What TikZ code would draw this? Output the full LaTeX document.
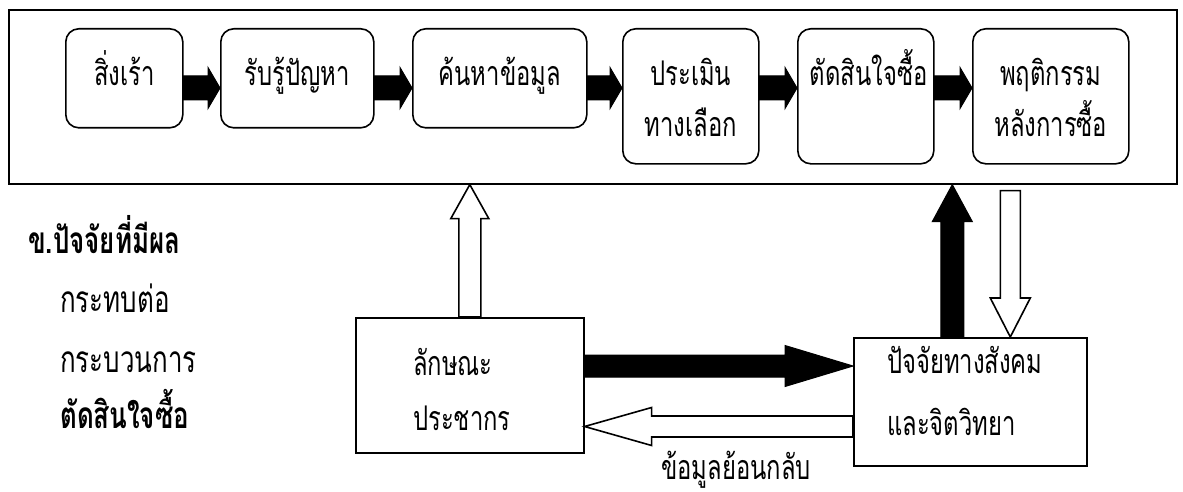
\documentclass[tikz,border=0pt]{standalone}
\usepackage{fontspec}
\newfontfamily\thai[Script=Thai,FakeStretch=0.70]{Loma}
\usetikzlibrary{calc}
\tikzset{
  every node/.style={font=\thai\fontsize{34}{36}\selectfont},
  rbox/.style={draw, line width=1.6pt, rounded corners=13pt, inner sep=0pt, anchor=north west},
  sbox/.style={draw, line width=1.6pt, inner sep=0pt, anchor=north west},
  txt/.style={inner sep=0pt, anchor=base},
  ltxt/.style={inner sep=0pt, anchor=base west},
  headtxt/.style={inner sep=0pt, anchor=base west, font=\thai\fontsize{37}{39}\selectfont},
  boldtxt/.style={inner sep=0pt, anchor=base west, font=\thai\bfseries\fontsize{37}{39}\selectfont},
  solidarrow/.style={fill=black, draw=black, line width=1pt, line join=miter},
  hollowarrow/.style={fill=white, draw=black, line width=1.6pt, line join=miter},
}
% #1 style, #2 start, #3 tip, #4 shaft half width, #5 head half width, #6 head length
\newcommand\blockarrow[6]{%
  \coordinate (ba-s) at (#2);
  \coordinate (ba-e) at (#3);
  \coordinate (ba-h) at ($(ba-e)!#6!(ba-s)$);
  \path[#1] ($(ba-s)!#4!90:(ba-e)$) -- ($(ba-h)!#4!90:(ba-e)$) -- ($(ba-h)!#5!90:(ba-e)$)
    -- (ba-e) -- ($(ba-h)!#5!-90:(ba-e)$) -- ($(ba-h)!#4!-90:(ba-e)$) -- ($(ba-s)!#4!-90:(ba-e)$) -- cycle;
}
\begin{document}
\begin{tikzpicture}[x=1pt,y=1pt]
\useasboundingbox[fill=white] (0,0) rectangle (1183,-492);

% outer frame
\node[sbox, minimum width=1168pt, minimum height=174pt] (outer) at (8,-9) {};

% process boxes
\node[rbox, minimum width=117pt, minimum height=99pt]  (b1) at (65,-28) {};
\node[rbox, minimum width=153pt, minimum height=99pt]  (b2) at (220,-28) {};
\node[rbox, minimum width=174pt, minimum height=99pt]  (b3) at (412,-28) {};
\node[rbox, minimum width=136pt, minimum height=135pt] (b4) at (622,-28) {};
\node[rbox, minimum width=136pt, minimum height=135pt] (b5) at (797,-28) {};
\node[rbox, minimum width=156pt, minimum height=135pt] (b6) at (972,-28) {};

\node[txt] (t1)  at ([yshift=-58pt]b1.north) {สิ่งเร้า};
\node[txt] (t2)  at ([yshift=-58pt]b2.north) {รับรู้ปัญหา};
\node[txt] (t3)  at ([yshift=-58pt]b3.north) {ค้นหาข้อมูล};
\node[txt] (t4a) at ([yshift=-58pt]b4.north) {ประเมิน};
\node[txt] (t4b) at ([yshift=-108pt]b4.north) {ทางเลือก};
\node[txt] (t5)  at ([xshift=3pt,yshift=-58pt]b5.north) {ตัดสินใจซื้อ};
\node[txt] (t6a) at ([yshift=-58pt]b6.north) {พฤติกรรม};
\node[txt] (t6b) at ([yshift=-108pt]b6.north) {หลังการซื้อ};

% arrows between process boxes
\coordinate (row) at (0,-88);
\blockarrow{solidarrow}{b1.east |- row}{b2.west |- row}{12pt}{20.5pt}{12pt}
\blockarrow{solidarrow}{b2.east |- row}{b3.west |- row}{12pt}{20.5pt}{12pt}
\blockarrow{solidarrow}{b3.east |- row}{b4.west |- row}{12pt}{20.5pt}{12pt}
\blockarrow{solidarrow}{b4.east |- row}{b5.west |- row}{12pt}{20.5pt}{12pt}
\blockarrow{solidarrow}{b5.east |- row}{b6.west |- row}{12pt}{20.5pt}{12pt}

% left heading
\node[boldtxt] (h1) at (28,-253) {ข.ปัจจัยที่มีผล};
\node[headtxt] (h2) at (60,-312) {กระทบต่อ};
\node[headtxt] (h3) at (60,-372) {กระบวนการ};
\node[boldtxt] (h4) at (60,-428) {ตัดสินใจซื้อ};

% lower boxes
\node[sbox, minimum width=228pt, minimum height=135pt] (L) at (355,-317) {};
\node[sbox, minimum width=233pt, minimum height=128pt] (R) at (853,-337) {};
\node[ltxt] (l1) at (413,-375) {ลักษณะ};
\node[ltxt] (l2) at (413,-430) {ประชากร};
\node[ltxt] (r1) at (887,-373) {ปัจจัยทางสังคม};
\node[ltxt] (r2) at (887,-435) {และจิตวิทยา};
\node[txt]  (fb) at (736,-479) {ข้อมูลย้อนกลับ};

% lower arrows
\blockarrow{hollowarrow}{L.north}{L.north |- outer.south}{11pt}{19pt}{34pt}
\coordinate (upB) at ($(R.north)+(-18,0)$);
\blockarrow{solidarrow}{upB}{upB |- outer.south}{11.5pt}{20pt}{37pt}
\coordinate (dnB) at ($(R.north)+(40,0)$);
\coordinate (dnA) at ($(dnB |- outer.south)+(0,-6)$);
\blockarrow{hollowarrow}{dnA}{dnB}{10pt}{20pt}{39pt}
\coordinate (rowA) at (0,-366);
\coordinate (rowB) at (0,-426.5);
\blockarrow{solidarrow}{L.east |- rowA}{R.west |- rowA}{11pt}{20.5pt}{68pt}
\blockarrow{hollowarrow}{R.west |- rowB}{L.east |- rowB}{10.5pt}{19pt}{67pt}
\end{tikzpicture}
\end{document}
